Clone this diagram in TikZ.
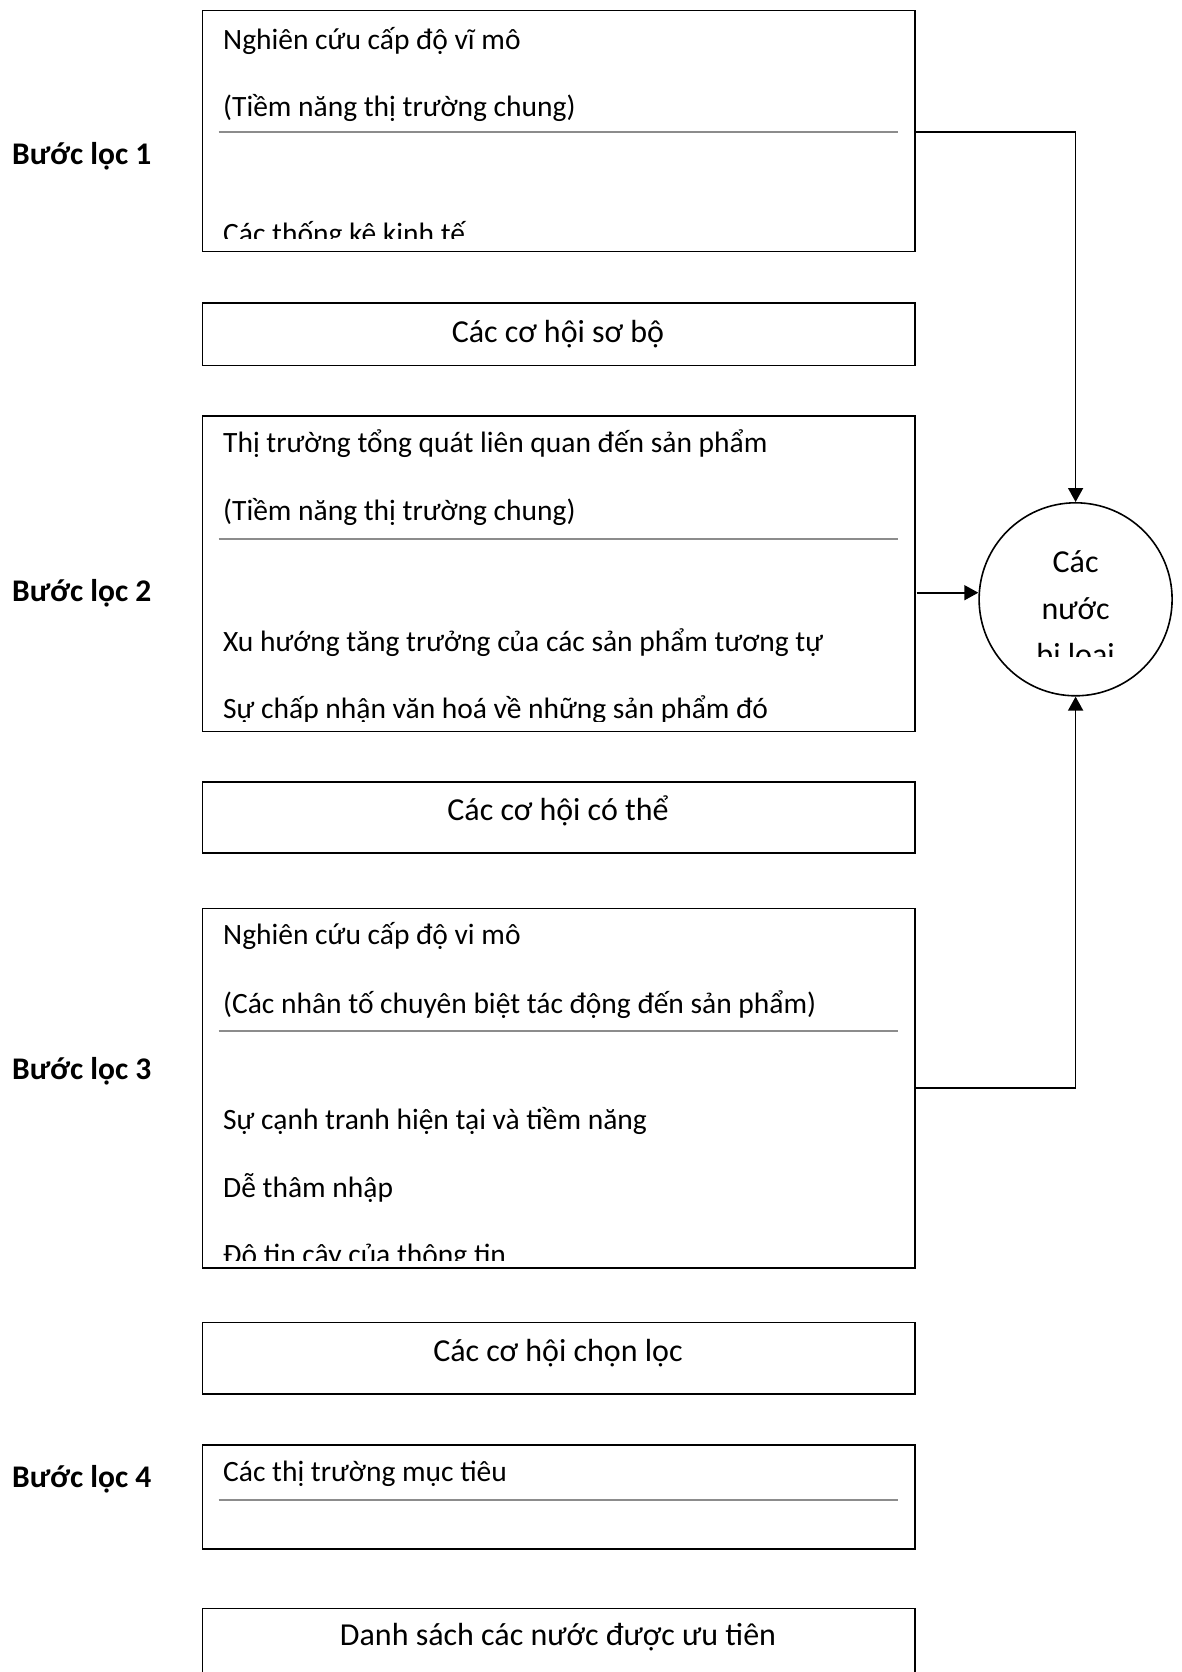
\documentclass[tikz,border=0pt]{standalone}
\usepackage{fontspec}
\setmainfont{Carlito}
\usetikzlibrary{arrows.meta}
\begin{document}
\begin{tikzpicture}[x=1pt,y=-1pt,
  box/.style={draw=black,line width=1.6pt,minimum width=712.7pt,inner sep=0pt,anchor=north west},
  body/.style={anchor=west,inner sep=0pt,font=\fontsize{29.5}{35}\selectfont},
  head/.style={anchor=center,inner sep=0pt,font=\fontsize{32}{38}\selectfont},
  ctext/.style={anchor=base,inner sep=0pt,font=\fontsize{32}{38}\selectfont},
  lab/.style={anchor=center,inner sep=0pt,font=\fontsize{31.5}{37}\selectfont\bfseries},
  sep/.style={draw=black!45,line width=2pt},
  arr/.style={draw=black,line width=1.6pt,-{Triangle[length=14pt,width=15pt]}}]
\clip (0,0) rectangle (1182,1672);
\fill[white] (0,0) rectangle (1182,1672);

% labels
\node[lab] (l1) at (81.7,155.8) {Bước lọc 1};
\node[lab] (l2) at (81.7,593.1) {Bước lọc 2};
\node[lab] (l3) at (81.7,1071.1) {Bước lọc 3};
\node[lab] (l4) at (81.7,1479.7) {Bước lọc 4};

% box 1
\node[box,minimum height=241.1pt] (b1) at (201.6,9.6) {};
\begin{scope}
\clip (201.6,9.6) rectangle (914.3,238);
\node[body] (b1t1) at (223,40.5) {Nghiên cứu cấp độ vĩ mô};
\node[body] (b1t2) at (223,107.7) {(Tiềm năng thị trường chung)};
\node[body] (b1t3) at (223,234.7) {Các thống kê kinh tế};
\end{scope}
\draw[sep] (218.7,132.3) -- (898,132.3);

% box so bo
\node[box,minimum height=62.9pt] (s1) at (201.6,301.9) {};
\node[head] (s1t) at (558,333.9) {Các cơ hội sơ bộ};

% box 2
\node[box,minimum height=315.8pt] (b2) at (201.6,415) {};
\begin{scope}
\clip (201.6,415) rectangle (914.3,721);
\node[body] (b2t1) at (223,443.8) {Thị trường tổng quát liên quan đến sản phẩm};
\node[body] (b2t2) at (223,512) {(Tiềm năng thị trường chung)};
\node[body] (b2t3) at (223,642.2) {Xu hướng tăng trưởng của các sản phẩm tương tự};
\node[body] (b2t4) at (223,709.4) {Sự chấp nhận văn hoá về những sản phẩm đó};
\end{scope}
\draw[sep] (218.7,538.7) -- (898,538.7);

% box co the
\node[box,minimum height=71.5pt] (s2) at (201.6,780.9) {};
\node[head] (s2t) at (558,810.8) {Các cơ hội có thể};

% box 3
\node[box,minimum height=359.6pt] (b3) at (201.6,907.8) {};
\begin{scope}
\clip (201.6,907.8) rectangle (914.3,1260);
\node[body] (b3t1) at (223,935.6) {Nghiên cứu cấp độ vi mô};
\node[body] (b3t2) at (223,1004.9) {(Các nhân tố chuyên biệt tác động đến sản phẩm)};
\node[body] (b3t3) at (223,1121.2) {Sự cạnh tranh hiện tại và tiềm năng};
\node[body] (b3t4) at (223,1188.4) {Dễ thâm nhập};
\node[body] (b3t5) at (223,1256.7) {Độ tin cậy của thông tin};
\end{scope}
\draw[sep] (218.7,1030.5) -- (898,1030.5);

% box chon loc
\node[box,minimum height=71.4pt] (s3) at (201.6,1321.8) {};
\node[head] (s3t) at (558,1352.7) {Các cơ hội chọn lọc};

% box 4
\node[box,minimum height=103.5pt] (b4) at (201.6,1444.4) {};
\node[body] (b4t1) at (223,1473.3) {Các thị trường mục tiêu};
\draw[sep] (218.7,1499.9) -- (898,1499.9);

% box 5
\node[box,minimum height=90pt] (s4) at (201.6,1607.7) {};
\node[head] (s4t) at (558,1637.5) {Danh sách các nước được ưu tiên};

% circle
\node[draw=black,line width=1.6pt,circle,minimum size=193pt,inner sep=0pt] (c) at (1075.6,599.3) {};
\begin{scope}
\clip (1075.6,599.3) circle (96.5);
\clip (960,480) rectangle (1190,656.7);
\node[ctext] (ct1) at (1075.6,572.7) {Các};
\node[ctext] (ct2) at (1075.6,619.3) {nước};
\node[ctext] (ct3) at (1075.6,665.9) {bị loại};
\end{scope}

% connectors
\coordinate (a1) at (914.3,132.3);
\coordinate (a2) at (916.7,592.7);
\coordinate (a3) at (914.3,1088.1);
\draw[arr] (a1) -| (c.north);
\draw[arr] (a2) -- (c.west |- a2);
\draw[arr] (a3) -| (c.south);
\end{tikzpicture}
\end{document}
